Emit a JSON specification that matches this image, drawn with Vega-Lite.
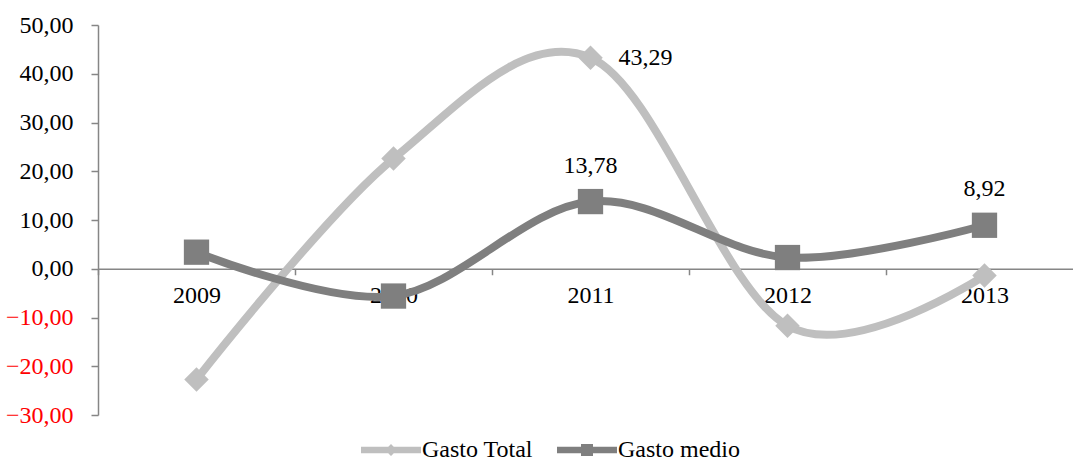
{
  "$schema": "https://vega.github.io/schema/vega-lite/v6.json",
  "autosize": {"type": "none"},
  "padding": {"left": 98, "top": 25, "right": 0, "bottom": 48},
  "width": 975,
  "height": 390,
  "background": "white",
  "config": {"view": {"stroke": null}, "font": "Liberation Serif"},
  "data": {"values": [
    {"year": "2009", "series": "Gasto Total", "value": -22.7, "label": null},
    {"year": "2010", "series": "Gasto Total", "value": 22.6, "label": null},
    {"year": "2011", "series": "Gasto Total", "value": 43.29, "label": "43,29"},
    {"year": "2012", "series": "Gasto Total", "value": -11.7, "label": null},
    {"year": "2013", "series": "Gasto Total", "value": -1.4, "label": null},
    {"year": "2009", "series": "Gasto medio", "value": 3.4, "label": null},
    {"year": "2010", "series": "Gasto medio", "value": -5.6, "label": null},
    {"year": "2011", "series": "Gasto medio", "value": 13.78, "label": "13,78"},
    {"year": "2012", "series": "Gasto medio", "value": 2.3, "label": null},
    {"year": "2013", "series": "Gasto medio", "value": 8.92, "label": "8,92"}
  ]},
  "encoding": {
    "x": {
      "field": "year", "type": "ordinal",
      "scale": {"type": "band", "range": [0, 985], "paddingInner": 0, "paddingOuter": 0},
      "axis": {
        "title": null, "orient": "bottom", "offset": -146.25, "tickBand": "extent",
        "labelAngle": 0, "labelFont": "Liberation Serif", "labelFontSize": 24, "labelColor": "black",
        "labelPadding": 9, "tickSize": 6, "tickColor": "#868686", "domainColor": "#868686",
        "domainWidth": 1.5, "tickWidth": 1.5, "zindex": 0
      }
    },
    "y": {
      "field": "value", "type": "quantitative",
      "scale": {"domain": [-30, 50], "nice": false, "zero": false},
      "axis": {
        "title": null, "values": [-30, -20, -10, 0, 10, 20, 30, 40, 50], "grid": false,
        "labelExpr": "replace(format(datum.value, '.2f'), '.', ',')",
        "labelColor": {"expr": "datum.value < 0 ? '#ff0000' : '#000000'"},
        "labelFont": "Liberation Serif", "labelFontSize": 24, "labelPadding": 18,
        "tickSize": 7, "tickColor": "#868686", "domainColor": "#868686",
        "domainWidth": 1.5, "tickWidth": 1.5, "zindex": 0
      }
    },
    "color": {
      "field": "series", "type": "nominal",
      "scale": {"domain": ["Gasto Total", "Gasto medio"], "range": ["#bfbfbf", "#7f7f7f"]},
      "legend": {
        "orient": "none", "legendX": 263, "legendY": 395, "direction": "horizontal",
        "title": null, "labelFont": "Liberation Serif", "labelFontSize": 24, "labelColor": "black",
        "symbolSize": 3600, "labelOffset": 1, "columnPadding": 24, "labelLimit": 300,
        "encode": {"symbols": {"update": {
          "shape": {"signal": "datum.value === 'Gasto Total' ? 'M-1,-0.11L1,-0.11L1,0.11L-1,0.11ZM0,-0.2L0.2,0L0,0.2L-0.2,0Z' : 'M-1,-0.11L1,-0.11L1,0.11L-1,0.11ZM-0.2,-0.2L0.2,-0.2L0.2,0.2L-0.2,0.2Z'"},
          "fill": {"signal": "datum.value === 'Gasto Total' ? '#bfbfbf' : '#7f7f7f'"},
          "strokeWidth": {"value": 0},
          "opacity": {"value": 1}
        }}}
      }
    }
  },
  "layer": [
    {
      "mark": {"type": "line", "interpolate": "cardinal", "tension": 0, "strokeWidth": 8, "strokeCap": "round"}
    },
    {
      "transform": [{"filter": "datum.series === 'Gasto Total'"}],
      "mark": {"type": "point", "filled": true, "opacity": 1, "size": 600, "shape": "diamond"}
    },
    {
      "transform": [{"filter": "datum.series === 'Gasto medio'"}],
      "mark": {"type": "point", "filled": true, "opacity": 1, "size": 640, "shape": "square"}
    },
    {
      "transform": [{"filter": "datum.label != null && datum.series === 'Gasto Total'"}],
      "mark": {"type": "text", "align": "left", "baseline": "middle", "dx": 28, "fontSize": 24, "font": "Liberation Serif", "color": "black"},
      "encoding": {"text": {"field": "label"}, "color": {"value": "black"}}
    },
    {
      "transform": [{"filter": "datum.label != null && datum.series === 'Gasto medio'"}],
      "mark": {"type": "text", "align": "center", "baseline": "middle", "dy": -36, "fontSize": 24, "font": "Liberation Serif", "color": "black"},
      "encoding": {"text": {"field": "label"}, "color": {"value": "black"}}
    }
  ]
}
